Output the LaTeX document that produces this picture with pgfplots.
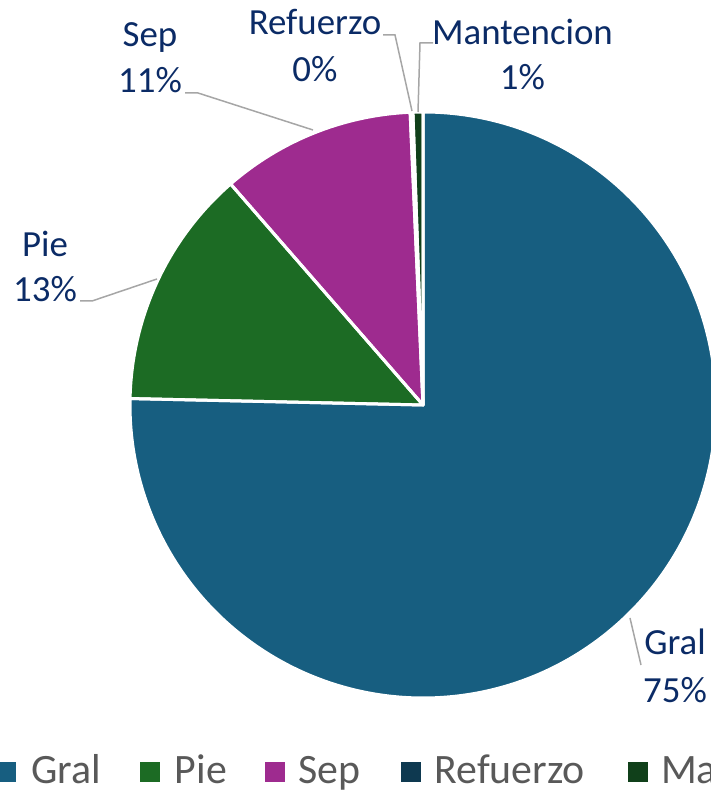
\documentclass[border=0pt]{standalone}
\usepackage{fontspec}
\setmainfont{Carlito}
\usepackage{pgfplots}
\usepackage{pgfplotstable}
\pgfplotsset{compat=1.18}

\definecolor{pc0}{HTML}{175E80}
\definecolor{pc1}{HTML}{1C6B24}
\definecolor{pc2}{HTML}{9E2B8F}
\definecolor{pc3}{HTML}{0E3950}
\definecolor{pc4}{HTML}{10401A}
\definecolor{labcol}{HTML}{0B2B66}
\definecolor{legcol}{HTML}{595959}
\definecolor{leadcol}{HTML}{A6A6A6}

\pgfplotstableread{
label value
Gral 75.35
Pie 13.25
Sep 10.70
Refuerzo 0.15
Mantencion 0.55
}\piedata

\def\angacc{90}
\pgfplotsforeachungrouped \i in {0,...,4}{%
  \pgfplotstablegetelem{\i}{value}\of\piedata
  \pgfmathsetmacro\sweep{\pgfplotsretval*3.6}%
  \expandafter\xdef\csname sA\i\endcsname{\angacc}%
  \pgfmathsetmacro\angacc{\angacc-\sweep}%
  \expandafter\xdef\csname eA\i\endcsname{\angacc}%
}

\begin{document}
\begin{tikzpicture}
\begin{axis}[
  scale only axis, width=711bp, height=792bp,
  xmin=0, xmax=711, ymin=0, ymax=792,
  hide axis, clip=false,
]
% slices
\pgfplotsinvokeforeach{0,...,4}{%
  \fill[pc#1] (axis cs:423,387) -- ++(\csname sA#1\endcsname:293bp)
    arc[start angle=\csname sA#1\endcsname, end angle=\csname eA#1\endcsname, radius=293bp] -- cycle;
}
\pgfplotsinvokeforeach{0,...,4}{%
  \draw[white, line width=3bp, line join=round] (axis cs:423,387) -- ++(\csname sA#1\endcsname:293bp)
    arc[start angle=\csname sA#1\endcsname, end angle=\csname eA#1\endcsname, radius=293bp] -- cycle;
}
% leader lines
\draw[leadcol, line width=1.5bp] (axis cs:185,699) -- (axis cs:198,699) -- (axis cs:313,662);
\draw[leadcol, line width=1.5bp] (axis cs:383,757) -- (axis cs:395,757) -- (axis cs:412,681);
\draw[leadcol, line width=1.5bp] (axis cs:433,749) -- (axis cs:420,749) -- (axis cs:418,680);
\draw[leadcol, line width=1.5bp] (axis cs:80,491) -- (axis cs:92,491) -- (axis cs:157,513);
\draw[leadcol, line width=1.5bp] (axis cs:630,174) -- (axis cs:641,127);
% data labels
\tikzset{lab/.style={anchor=base, inner sep=0pt, text=labcol, font=\fontsize{37}{44}\selectfont}}
\node[lab] at (axis cs:150,745.3) {Sep};
\node[lab] at (axis cs:150,699) {11\%};
\node[lab] at (axis cs:315,757) {Refuerzo};
\node[lab] at (axis cs:315,710) {0\%};
\node[lab] at (axis cs:522.5,747) {Mantencion};
\node[lab] at (axis cs:522.5,702) {1\%};
\node[lab] at (axis cs:45,535) {Pie};
\node[lab] at (axis cs:45,490) {13\%};
\node[lab] at (axis cs:675,137) {Gral};
\node[lab] at (axis cs:675,89) {75\%};
% legend
\tikzset{leg/.style={anchor=base west, inner sep=0pt, text=legcol, font=\fontsize{42}{50}\selectfont}}
\fill[pc0] (axis cs:-4,10) rectangle (axis cs:16,30);
\node[leg] at (axis cs:31,9) {Gral};
\fill[pc1] (axis cs:140,10) rectangle (axis cs:160,30);
\node[leg] at (axis cs:174.6,9) {Pie};
\fill[pc2] (axis cs:265,10) rectangle (axis cs:285,30);
\node[leg] at (axis cs:298,9) {Sep};
\fill[pc3] (axis cs:401,10) rectangle (axis cs:421,30);
\node[leg] at (axis cs:434.5,9) {Refuerzo};
\fill[pc4] (axis cs:628,10) rectangle (axis cs:648,30);
\node[leg] at (axis cs:661,9) {Mantencion};
\end{axis}
\pgfresetboundingbox
\path (0,0) rectangle (711bp,792bp);
\end{tikzpicture}
\end{document}
